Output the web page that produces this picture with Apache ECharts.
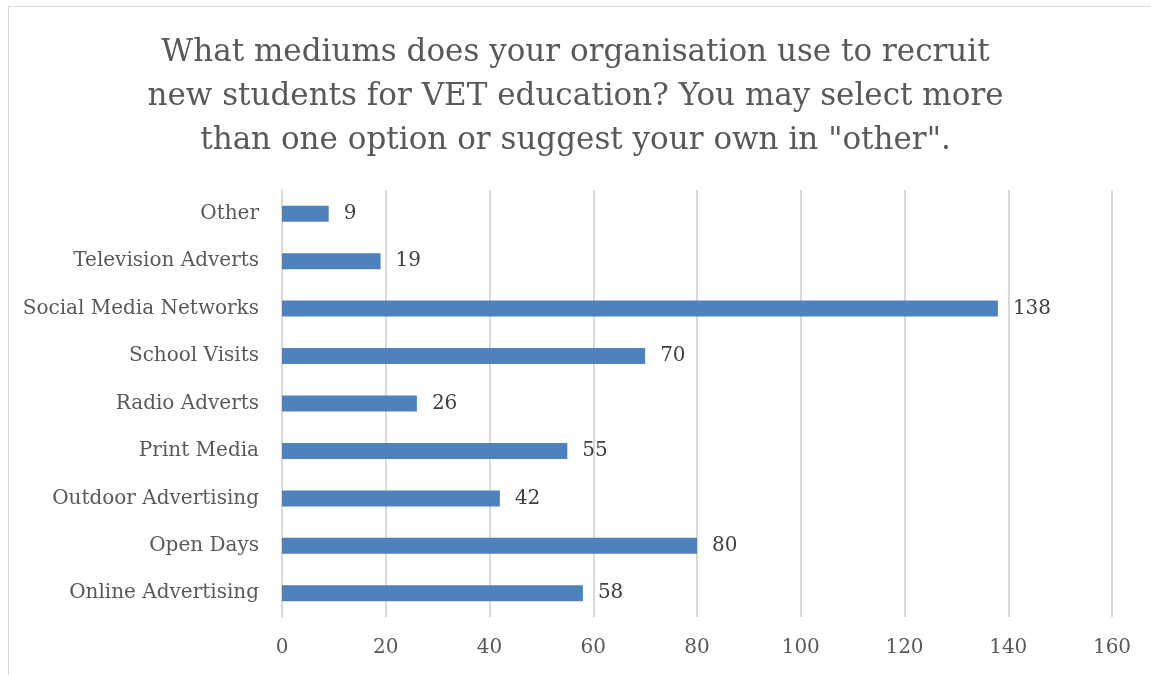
<!DOCTYPE html>
<html><head><meta charset="utf-8">
<script src="https://cdn.jsdelivr.net/npm/echarts@6/dist/echarts.min.js"></script>
<style>html,body{margin:0;padding:0;background:#fff}#c{width:1151px;height:675px}
#frame{position:absolute;left:8px;top:6px;width:1200px;height:700px;border:1px solid #d9d9d9;box-sizing:border-box;pointer-events:none}</style>
</head><body><div id="c"></div><div id="frame"></div>
<script>
const titleText = 'What mediums does your organisation use to recruit\nnew students for VET education? You may select more\nthan one option or suggest your own in "other".';
const categories = ['Online Advertising','Open Days','Outdoor Advertising','Print Media','Radio Adverts','School Visits','Social Media Networks','Television Adverts','Other'];
const values = [58, 80, 42, 55, 26, 70, 138, 19, 9];
const xTicks = {min: 0, max: 160, interval: 20};
const font = '"DejaVu Serif", "Liberation Serif", serif';
const chart = echarts.init(document.getElementById('c'));
chart.setOption({
  animation: false,
  title: {text: titleText, left: 'center', top: 31, padding: [0,0,0,16],
    textStyle: {fontFamily: font, fontSize: 31, fontWeight: 'normal', color: '#595959', lineHeight: 44}},
  grid: {left: 282, right: 39, top: 190, bottom: 58, containLabel: false},
  xAxis: {type: 'value', min: xTicks.min, max: xTicks.max, interval: xTicks.interval,
    axisLine: {show: false}, axisTick: {show: false},
    splitLine: {show: true, lineStyle: {color: '#d9d9d9', width: 2}},
    axisLabel: {fontFamily: font, fontSize: 20, color: '#595959', margin: 21}},
  yAxis: {type: 'category', data: categories,
    axisLine: {show: true, lineStyle: {color: '#d9d9d9', width: 2}}, axisTick: {show: false},
    axisLabel: {fontFamily: font, fontSize: 20, color: '#595959', margin: 23, padding: [4,0,0,0]}},
  series: [{type: 'bar', data: values, barWidth: 16,
    itemStyle: {color: '#4f81bd'},
    label: {show: true, position: 'right', distance: 15, fontFamily: font, fontSize: 20, color: '#404040', padding: [3,0,0,0]}}]
});
</script></body></html>
